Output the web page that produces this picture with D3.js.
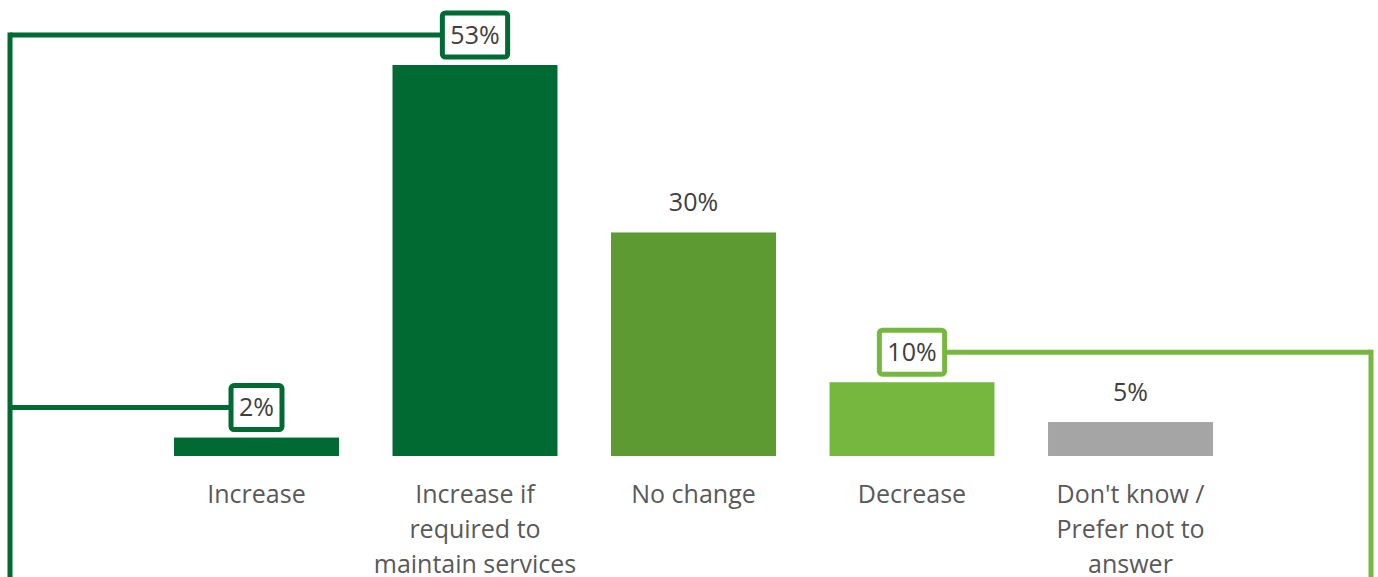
<!DOCTYPE html>
<html>
<head>
<meta charset="utf-8">
<script src="https://cdn.jsdelivr.net/npm/d3@7"></script>
<style>
  body { margin: 0; background: #fff; }
  text { font-family: "Open Sans", sans-serif; }
</style>
</head>
<body>
<div id="chart"></div>
<script>
var categories = ['Increase', 'Increase if required to maintain services', 'No change', 'Decrease', "Don't know / Prefer not to answer"];
var labelLines = [['Increase'], ['Increase if', 'required to', 'maintain services'], ['No change'], ['Decrease'], ["Don't know /", 'Prefer not to', 'answer']];
var values = [2.5, 53, 30.3, 10, 4.6];
var valueLabels = ['2%', '53%', '30%', '10%', '5%'];
var barColors = ['#006a33', '#006a33', '#5e9a32', '#76b83f', '#a5a5a5'];
var boxed = [true, true, false, true, false];

// brackets: which categories are joined, which side, line colour
var brackets = [
	{ members: [0, 1], side: 'left', color: '#006a33' },
	{ members: [3], side: 'right', color: '#76b83f' }
];

var width = 1378;
var height = 577;
var baseline = 456;

var svg = d3.select('#chart')
	.append('svg')
	.attr('width', width)
	.attr('height', height);

var x_scale = d3.scaleBand()
	.domain(categories)
	.range([147.25, 1239.75])
	.paddingInner(0.245)
	.paddingOuter(0.1225);

var y_scale = d3.scaleLinear()
	.domain([0, 53])
	.range([baseline, 65]);

var labelY = function (i) { return y_scale(values[i]) - 30; };
var boxPad = 8;
var boxH = 44;

// bars
svg.selectAll('rect.bar')
	.data(values)
	.enter()
	.append('rect')
	.attr('class', 'bar')
	.attr('x', function (d, i) { return x_scale(categories[i]); })
	.attr('y', function (d) { return y_scale(d); })
	.attr('width', x_scale.bandwidth())
	.attr('height', function (d) { return baseline - y_scale(d); })
	.attr('fill', function (d, i) { return barColors[i]; });

// value labels
var labels = svg.selectAll('text.val')
	.data(values)
	.enter()
	.append('text')
	.attr('class', 'val')
	.attr('x', function (d, i) { return x_scale(categories[i]) + x_scale.bandwidth() / 2; })
	.attr('y', function (d, i) { return labelY(i); })
	.attr('dy', '0.35em')
	.attr('text-anchor', 'middle')
	.attr('font-size', 25)
	.attr('fill', '#404040')
	.text(function (d, i) { return valueLabels[i]; });

var boxW = [];
labels.each(function (d, i) { boxW[i] = this.getComputedTextLength() + boxPad * 2; });

function boxColor(i) {
	var c = null;
	brackets.forEach(function (b) { if (b.members.indexOf(i) >= 0) c = b.color; });
	return c;
}

// bracket lines
brackets.forEach(function (b) {
	var edgeX = b.side === 'left' ? 10 : 1371;
	var ys = b.members.map(labelY);
	var top = d3.min(ys);
	svg.append('line')
		.attr('x1', edgeX).attr('x2', edgeX)
		.attr('y1', top - 2.5).attr('y2', height)
		.attr('stroke', b.color).attr('stroke-width', 5);
	b.members.forEach(function (i) {
		var cx = x_scale(categories[i]) + x_scale.bandwidth() / 2;
		var bx = b.side === 'left' ? cx - boxW[i] / 2 : cx + boxW[i] / 2;
		svg.append('line')
			.attr('x1', edgeX).attr('x2', bx)
			.attr('y1', labelY(i)).attr('y2', labelY(i))
			.attr('stroke', b.color).attr('stroke-width', 5);
	});
});

// boxes behind boxed labels
values.forEach(function (d, i) {
	if (!boxed[i]) return;
	var cx = x_scale(categories[i]) + x_scale.bandwidth() / 2;
	svg.insert('rect', 'text.val')
		.attr('x', cx - boxW[i] / 2)
		.attr('y', labelY(i) - boxH / 2)
		.attr('width', boxW[i])
		.attr('height', boxH)
		.attr('rx', 3)
		.attr('fill', '#fff')
		.attr('stroke', boxColor(i))
		.attr('stroke-width', 5);
});

// category labels
svg.selectAll('text.cat')
	.data(labelLines)
	.enter()
	.append('text')
	.attr('class', 'cat')
	.attr('text-anchor', 'middle')
	.attr('font-size', 25)
	.attr('fill', '#595959')
	.each(function (lines, i) {
		var cx = x_scale(categories[i]) + x_scale.bandwidth() / 2;
		d3.select(this).selectAll('tspan')
			.data(lines)
			.enter()
			.append('tspan')
			.attr('x', cx)
			.attr('y', function (l, j) { return 494 + j * 35; })
			.attr('dy', '0.35em')
			.text(function (l) { return l; });
	});
</script>
</body>
</html>
